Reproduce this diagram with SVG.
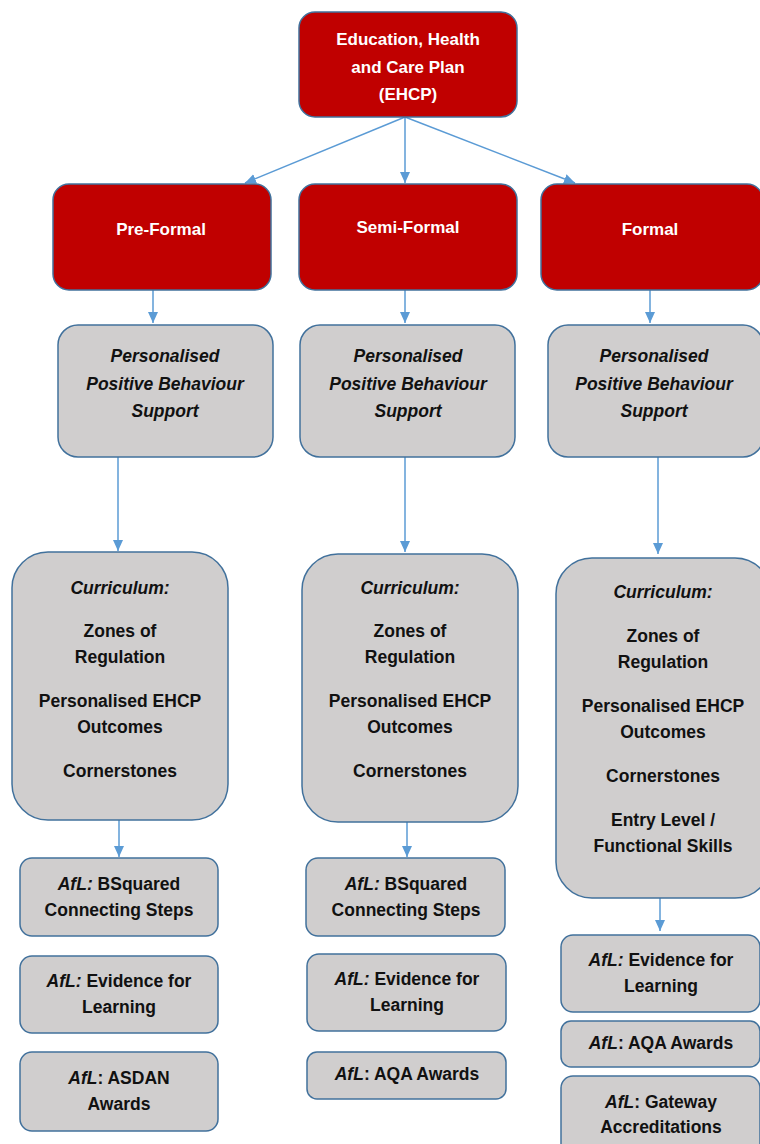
<svg xmlns="http://www.w3.org/2000/svg" width="760" height="1144" viewBox="0 0 760 1144">
<defs>
<style>
.red{fill:#C00000;stroke:#41719C;stroke-width:1.5}
.grey{fill:#D0CECE;stroke:#41719C;stroke-width:1.5}
text{font-family:"Liberation Sans",Arial,sans-serif;font-size:17.5px;font-weight:bold;text-anchor:middle;fill:#111}
.w{fill:#fff;font-size:17px}
.i{font-style:italic}
.c{stroke:#5B9BD5;stroke-width:1.5;fill:none}
</style>
<marker id="ah" markerUnits="userSpaceOnUse" markerWidth="12" markerHeight="12" viewBox="0 0 12 12" refX="11" refY="6" orient="auto">
<path d="M0,1 L11,6 L0,11 Z" fill="#5B9BD5"/>
</marker>
</defs>
<rect width="760" height="1144" fill="#fff"/>

<g id="connectors">
<line class="c" x1="405" y1="117" x2="245" y2="183" marker-end="url(#ah)"/>
<line class="c" x1="405" y1="117" x2="405" y2="183" marker-end="url(#ah)"/>
<line class="c" x1="405" y1="117" x2="575" y2="183" marker-end="url(#ah)"/>
<line class="c" x1="153" y1="290" x2="153" y2="323" marker-end="url(#ah)"/>
<line class="c" x1="405" y1="290" x2="405" y2="323" marker-end="url(#ah)"/>
<line class="c" x1="650" y1="290" x2="650" y2="323" marker-end="url(#ah)"/>
<line class="c" x1="118" y1="457" x2="118" y2="551" marker-end="url(#ah)"/>
<line class="c" x1="405" y1="457" x2="405" y2="552" marker-end="url(#ah)"/>
<line class="c" x1="658" y1="457" x2="658" y2="554" marker-end="url(#ah)"/>
<line class="c" x1="119" y1="820" x2="119" y2="857" marker-end="url(#ah)"/>
<line class="c" x1="407" y1="822" x2="407" y2="857" marker-end="url(#ah)"/>
<line class="c" x1="660" y1="898" x2="660" y2="931" marker-end="url(#ah)"/>
</g>

<g id="ehcp">
<rect class="red" x="299" y="12" width="218" height="105" rx="16"/>
<text class="w" x="408" y="45">Education, Health</text>
<text class="w" x="408" y="73">and Care Plan</text>
<text class="w" x="408" y="100">(EHCP)</text>
</g>

<g id="pre-formal">
<rect class="red" x="53" y="184" width="218" height="106" rx="16"/>
<text class="w" x="161" y="235">Pre-Formal</text>
</g>
<g id="semi-formal">
<rect class="red" x="299" y="184" width="218" height="106" rx="16"/>
<text class="w" x="408" y="233">Semi-Formal</text>
</g>
<g id="formal">
<rect class="red" x="541" y="184" width="222" height="106" rx="16"/>
<text class="w" x="650" y="235">Formal</text>
</g>

<g id="pbs-pre">
<rect class="grey" x="58" y="325" width="215" height="132" rx="20"/>
<text class="i" x="165" y="362">Personalised</text>
<text class="i" x="165" y="390">Positive Behaviour</text>
<text class="i" x="165" y="417">Support</text>
</g>
<g id="pbs-semi">
<rect class="grey" x="300" y="325" width="215" height="132" rx="20"/>
<text class="i" x="408" y="362">Personalised</text>
<text class="i" x="408" y="390">Positive Behaviour</text>
<text class="i" x="408" y="417">Support</text>
</g>
<g id="pbs-formal">
<rect class="grey" x="548" y="325" width="215" height="132" rx="20"/>
<text class="i" x="654" y="362">Personalised</text>
<text class="i" x="654" y="390">Positive Behaviour</text>
<text class="i" x="654" y="417">Support</text>
</g>

<g id="curriculum-pre">
<rect class="grey" x="12" y="552" width="216" height="268" rx="36"/>
<text class="i" x="120" y="594">Curriculum:</text>
<text x="120" y="637">Zones of</text>
<text x="120" y="663">Regulation</text>
<text x="120" y="707">Personalised EHCP</text>
<text x="120" y="733">Outcomes</text>
<text x="120" y="777">Cornerstones</text>
</g>
<g id="curriculum-semi">
<rect class="grey" x="302" y="554" width="216" height="268" rx="36"/>
<text class="i" x="410" y="594">Curriculum:</text>
<text x="410" y="637">Zones of</text>
<text x="410" y="663">Regulation</text>
<text x="410" y="707">Personalised EHCP</text>
<text x="410" y="733">Outcomes</text>
<text x="410" y="777">Cornerstones</text>
</g>
<g id="curriculum-formal">
<rect class="grey" x="556" y="558" width="215" height="340" rx="36"/>
<text class="i" x="663" y="598">Curriculum:</text>
<text x="663" y="642">Zones of</text>
<text x="663" y="668">Regulation</text>
<text x="663" y="712">Personalised EHCP</text>
<text x="663" y="738">Outcomes</text>
<text x="663" y="782">Cornerstones</text>
<text x="663" y="826">Entry Level /</text>
<text x="663" y="852">Functional Skills</text>
</g>

<g id="afl-pre-1">
<rect class="grey" x="20" y="858" width="198" height="78" rx="12"/>
<text x="119" y="890"><tspan class="i">AfL:</tspan> BSquared</text>
<text x="119" y="916">Connecting Steps</text>
</g>
<g id="afl-pre-2">
<rect class="grey" x="20" y="956" width="198" height="77" rx="12"/>
<text x="119" y="987"><tspan class="i">AfL:</tspan> Evidence for</text>
<text x="119" y="1013">Learning</text>
</g>
<g id="afl-pre-3">
<rect class="grey" x="20" y="1052" width="198" height="79" rx="12"/>
<text x="119" y="1084"><tspan class="i">AfL</tspan>: ASDAN</text>
<text x="119" y="1110">Awards</text>
</g>

<g id="afl-semi-1">
<rect class="grey" x="306" y="858" width="199" height="78" rx="12"/>
<text x="406" y="890"><tspan class="i">AfL:</tspan> BSquared</text>
<text x="406" y="916">Connecting Steps</text>
</g>
<g id="afl-semi-2">
<rect class="grey" x="307" y="954" width="199" height="77" rx="12"/>
<text x="407" y="985"><tspan class="i">AfL:</tspan> Evidence for</text>
<text x="407" y="1011">Learning</text>
</g>
<g id="afl-semi-3">
<rect class="grey" x="307" y="1052" width="199" height="47" rx="10"/>
<text x="407" y="1080"><tspan class="i">AfL</tspan>: AQA Awards</text>
</g>

<g id="afl-formal-1">
<rect class="grey" x="561" y="935" width="199" height="77" rx="12"/>
<text x="661" y="966"><tspan class="i">AfL:</tspan> Evidence for</text>
<text x="661" y="992">Learning</text>
</g>
<g id="afl-formal-2">
<rect class="grey" x="561" y="1021" width="199" height="46" rx="10"/>
<text x="661" y="1049"><tspan class="i">AfL</tspan>: AQA Awards</text>
</g>
<g id="afl-formal-3">
<rect class="grey" x="561" y="1076" width="199" height="80" rx="12"/>
<text x="661" y="1108"><tspan class="i">AfL</tspan>: Gateway</text>
<text x="661" y="1133">Accreditations</text>
</g>
</svg>
